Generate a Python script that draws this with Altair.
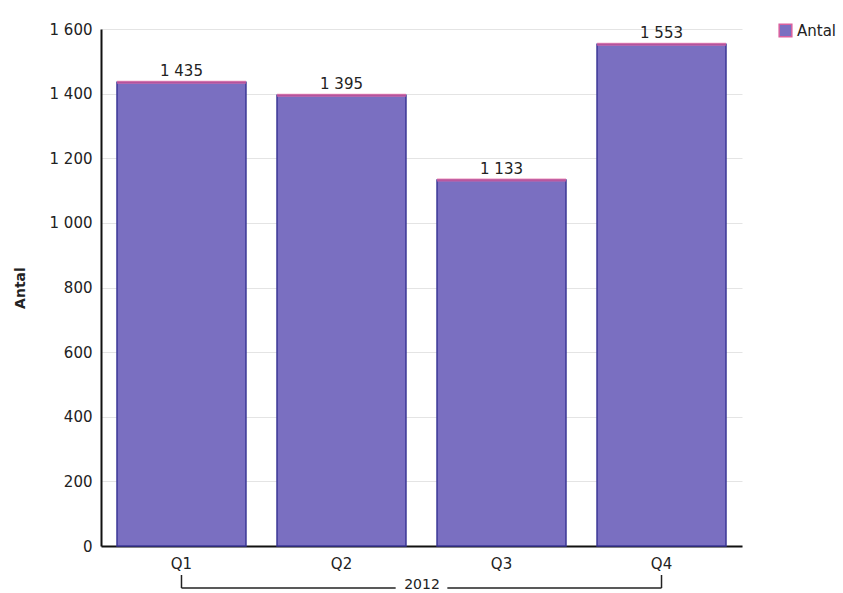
import altair as alt
import pandas as pd

quarters = ["Q1", "Q2", "Q3", "Q4"]
counts = [1435, 1395, 1133, 1553]
series = "Antal"
year = "2012"

df = pd.DataFrame({"kvartal": quarters, "antal": counts, "serie": series})
df["etikett"] = [f"{v:,}".replace(",", " ") for v in counts]

FONT = "DejaVu Sans"
W, H = 641, 517

x_enc = alt.X(
    "kvartal:N",
    sort=quarters,
    scale=alt.Scale(paddingInner=0.194, paddingOuter=0.1),
    axis=alt.Axis(
        title=None, labelAngle=0, ticks=False, domain=True, domainColor="#111",
        domainWidth=2, labelPadding=10, labelFontSize=15, labelColor="#222",
        labelFont=FONT, grid=False,
    ),
)

y_enc = alt.Y(
    "antal:Q",
    scale=alt.Scale(domain=[0, 1600], nice=False),
    axis=alt.Axis(
        title="Antal", titleFont=FONT, titleFontSize=14, titleFontWeight="bold",
        titleColor="#222", titlePadding=22, values=list(range(0, 1601, 200)),
        labelExpr="replace(format(datum.value, ','), ',', ' ')",
        labelFont=FONT, labelFontSize=15, labelColor="#222", labelPadding=9,
        ticks=False, domainColor="#111", domainWidth=2,
        grid=True, gridColor="#e4e4e4", gridWidth=1,
    ),
)

base = alt.Chart(df)

bars = base.mark_bar(
    fill="#7a6fc1", stroke="#3b3796", strokeWidth=1.5
).encode(
    x=x_enc,
    y=y_enc,
    color=alt.Color(
        "serie:N",
        scale=alt.Scale(domain=[series], range=["#7a6fc1"]),
        legend=alt.Legend(
            title=None, orient="none", legendX=677, legendY=-6,
            symbolType="square", symbolSize=160, symbolStrokeColor="#d9609f",
            symbolStrokeWidth=1.5, labelFont=FONT, labelFontSize=15,
            labelColor="#222",
        ),
    ),
)

# pink cap on top of each bar
caps = base.mark_tick(color="#e8609e", thickness=3, orient="horizontal").encode(
    x=alt.X("kvartal:N", sort=quarters),
    y="antal:Q",
    size=alt.value(129),
)

labels = base.mark_text(
    baseline="bottom", dy=-3, font=FONT, fontSize=15, color="#222"
).encode(
    x=alt.X("kvartal:N", sort=quarters),
    y="antal:Q",
    text="etikett:N",
)

# year bracket under the quarter labels
ends = pd.DataFrame({"kvartal": [quarters[0], quarters[-1]]})
bracket_v = alt.Chart(ends).mark_rule(color="#222", strokeWidth=1.5).encode(
    x=alt.X("kvartal:N", sort=quarters),
    y=alt.value(H + 29),
    y2=alt.value(H + 42),
)

segs = pd.DataFrame({"a": [quarters[0], quarters[2]], "b": [quarters[1], quarters[3]]})
left_seg = alt.Chart(segs.iloc[[0]]).mark_rule(color="#222", strokeWidth=1.5).encode(
    x=alt.X("a:N", sort=quarters, bandPosition=0.5),
    x2=alt.X2("b:N", bandPosition=0.92),
    y=alt.value(H + 42),
)
right_seg = alt.Chart(segs.iloc[[1]]).mark_rule(color="#222", strokeWidth=1.5).encode(
    x=alt.X("a:N", sort=quarters, bandPosition=0.08),
    x2=alt.X2("b:N", bandPosition=0.5),
    y=alt.value(H + 42),
)

year_df = pd.DataFrame({"ar": [year], "a": [quarters[1]]})
year_text = alt.Chart(year_df).mark_text(
    font=FONT, fontSize=14, color="#222", baseline="middle", dx=16
).encode(
    x=alt.X("a:N", sort=quarters, bandPosition=1),
    y=alt.value(H + 39),
    text="ar:N",
)

chart = alt.layer(
    bars, caps, labels, bracket_v, left_seg, right_seg, year_text
).properties(
    width=W, height=H,
    background="white",
    autosize=alt.AutoSizeParams(type="none"),
    padding={"left": 101, "top": 29, "right": 101, "bottom": 47},
).configure_view(stroke=None)

chart.save("out.html", embed_options={"renderer": "svg", "actions": False})
